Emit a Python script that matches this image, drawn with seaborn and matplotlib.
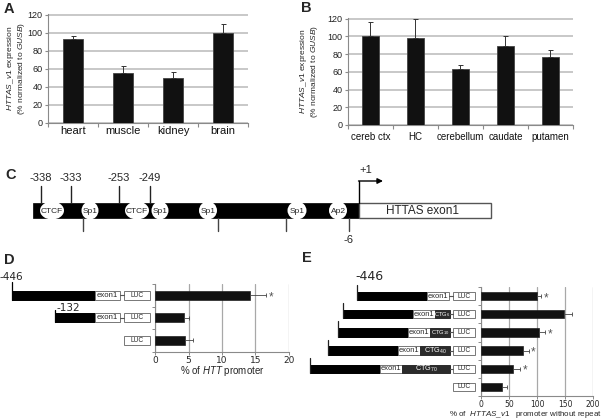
import numpy as np
import pandas as pd
import matplotlib
matplotlib.use("Agg")
import matplotlib.pyplot as plt
import matplotlib.patches as mpatches
from matplotlib.transforms import blended_transform_factory
import seaborn as sns

# panel A: tissues
tissues = ["heart", "muscle", "kidney", "brain"]
tissue_expr = [93, 55, 50, 100]
tissue_err = [3, 8, 6, 10]

# panel B: brain regions
regions = ["cereb ctx", "HC", "cerebellum", "caudate", "putamen"]
region_expr = [100, 98, 63, 89, 77]
region_err = [16, 22, 5, 11, 8]

# panel C: promoter map
c_sites_up = ["-338", "-333", "-253", "-249"]
c_motifs = ["CTCF", "Sp1", "CTCF", "Sp1", "Sp1", "Sp1", "Ap2"]

# panel D: HTTAS promoter deletions
d_constructs = ["-446", "-132", "LUC"]
d_activity = [14.2, 4.3, 4.5]
d_err = [2.4, 0.8, 1.2]
d_sig = [True, False, False]

# panel E: CTG repeat constructs
e_constructs = ["-446", "CTG6", "CTG10", "CTG40", "CTG70", "LUC"]
e_repeat = [None, "6", "10", "40", "70", None]
e_activity = [100, 149, 104, 75, 58, 37]
e_err = [8, 13, 11, 10, 12, 9]
e_sig = [True, False, True, True, True, False]

W, H = 604, 419
sns.set_theme(style="white")
plt.rcParams["font.family"] = ["Liberation Sans", "DejaVu Sans"]
plt.rcParams["mathtext.fontset"] = "custom"
plt.rcParams["mathtext.it"] = "Liberation Sans:italic"
plt.rcParams["mathtext.rm"] = "Liberation Sans"

fig = plt.figure(figsize=(W / 100, H / 100), dpi=100)


def px_rect(l, t, r, b):
    return [l / W, 1 - b / H, (r - l) / W, (b - t) / H]


GRID = "#c4c4c4"
SPINE = "#8a8a8a"


def expr_panel(ax, names, vals, errs, width, label_fs, pad):
    df = pd.DataFrame({"name": names, "val": vals})
    sns.barplot(data=df, x="name", y="val", color="#111111", saturation=1,
                width=width, edgecolor="#444444", linewidth=0.6, errorbar=None,
                ax=ax, zorder=3)
    ax.errorbar(np.arange(len(vals)), vals, yerr=[np.zeros(len(vals)), errs],
                fmt="none", ecolor="#333333", elinewidth=0.7, capsize=1.8,
                capthick=0.7, zorder=4)
    ax.set_ylim(0, 120.8)
    ax.set_xlim(-0.5, len(vals) - 0.5)
    ax.set_yticks(range(0, 121, 20))
    ax.yaxis.grid(True, color=GRID, lw=1.3)
    ax.set_axisbelow(True)
    for s in ["top", "right"]:
        ax.spines[s].set_visible(False)
    for s in ["left", "bottom"]:
        ax.spines[s].set_color(SPINE)
        ax.spines[s].set_linewidth(0.8)
    ax.set_xticks(np.arange(-0.5, len(vals)), minor=True)
    ax.tick_params(axis="x", which="major", length=0, pad=pad, labelsize=label_fs,
                   colors="#111111")
    ax.tick_params(axis="x", which="minor", length=3, color=SPINE, width=0.8,
                   direction="out", bottom=True)
    ax.tick_params(axis="y", length=2.5, color=SPINE, width=0.8, left=True,
                   labelsize=6.5, pad=1.5, labelcolor="#222222")
    ax.set_xlabel("")
    ax.set_ylabel("$HTTAS\\_v1$ expression\n(% normalized to $GUSB$)",
                  fontsize=6, linespacing=0.95)


axA = fig.add_axes(px_rect(48, 14, 248, 123))
expr_panel(axA, tissues, tissue_expr, tissue_err, 0.4, 8, 2.5)
axA.yaxis.set_label_coords(-0.105, 0.5)

axB = fig.add_axes(px_rect(348, 18, 573, 125))
expr_panel(axB, regions, region_expr, region_err, 0.38, 7, 5)
axB.yaxis.set_label_coords(-0.125, 0.5)


def luc_panel(ax, names, vals, errs, sig, xmax, step, width):
    df = pd.DataFrame({"name": names, "val": vals})
    sns.barplot(data=df, x="val", y="name", orient="h", color="#111111",
                saturation=1, width=width, edgecolor="#222222", linewidth=0.5,
                errorbar=None, ax=ax, zorder=3)
    ax.errorbar(vals, np.arange(len(vals)), xerr=[np.zeros(len(vals)), errs],
                fmt="none", ecolor="#444444", elinewidth=0.6, capsize=1.6,
                capthick=0.6, zorder=4)
    for i, (v, e, s) in enumerate(zip(vals, errs, sig)):
        if s:
            ax.annotate("*", (v + e, i), xytext=(3.5, -1.5), textcoords="offset points",
                        ha="center", va="center", fontsize=8.5, color="#555555")
    ax.set_xlim(0, xmax)
    ax.set_ylim(len(vals) - 0.5, -0.5)
    ax.set_xticks(np.arange(0, xmax + 1, step))
    ax.xaxis.grid(True, color="#a8a8a8", lw=0.9)
    ax.set_axisbelow(True)
    for s in ["top", "right"]:
        ax.spines[s].set_visible(False)
    for s in ["left", "bottom"]:
        ax.spines[s].set_color(SPINE)
        ax.spines[s].set_linewidth(0.8)
    ax.set_yticks(np.arange(-0.5, len(vals)))
    ax.set_yticklabels([])
    ax.tick_params(axis="y", length=2.5, color=SPINE, width=0.7, left=True)
    ax.tick_params(axis="x", length=2, color=SPINE, width=0.7, bottom=True, pad=1)
    ax.set_ylabel("")


axD = fig.add_axes(px_rect(155, 284, 289, 351.5))
luc_panel(axD, d_constructs, d_activity, d_err, d_sig, 20, 5, 0.42)
for t in axD.get_xticklabels():
    t.set_fontfamily("DejaVu Sans")
    t.set_fontsize(6.5)
axD.set_xlabel("% of $HTT$ promoter", fontsize=7, labelpad=-0.5)

axE = fig.add_axes(px_rect(481, 287, 593, 396))
luc_panel(axE, e_constructs, e_activity, e_err, e_sig, 200, 50, 0.45)
for t in axE.get_xticklabels():
    t.set_fontfamily("DejaVu Sans")
    t.set_fontsize(5.5)
axE.set_xlabel("% of  $HTTAS\\_v1$   promoter without repeat", fontsize=5.8)
axE.xaxis.set_label_coords(0.40, -0.115)

# overlay for schematics, in figure pixels
dax = fig.add_axes([0, 0, 1, 1], zorder=5)
dax.set_xlim(0, W)
dax.set_ylim(H, 0)
dax.axis("off")

for txt, x, y in [("A", 9, 9), ("B", 306, 8), ("C", 11, 175), ("D", 9, 260), ("E", 307, 258)]:
    dax.text(x, y, txt, fontsize=10.5, fontweight="bold", ha="center", va="center")

# panel C schematic
bar_top, bar_bot = 203, 218
dax.add_patch(mpatches.Rectangle((33, bar_top), 359 - 33, bar_bot - bar_top,
                                 facecolor="black", edgecolor="black", lw=0.5))
dax.add_patch(mpatches.Rectangle((359, bar_top), 491 - 359, bar_bot - bar_top,
                                 facecolor="white", edgecolor="#555555", lw=1))
dax.text(423, 210.5, "HTTAS exon1", fontsize=8.5, ha="center", va="center")
motif_x = [52, 90, 137, 160, 208, 297, 338]
motif_w = [24, 17, 24, 17, 18, 19, 18]
for name, x, w in zip(c_motifs, motif_x, motif_w):
    dax.add_patch(mpatches.Ellipse((x, 210.5), w, 18, facecolor="white",
                                   edgecolor="none"))
    dax.text(x, 211, name, fontsize=6, ha="center", va="center")
for name, x in zip(c_sites_up, [41, 71, 119, 150]):
    dax.plot([x, x], [186, bar_top], color="#222222", lw=1)
    dax.text(x, 178, name, fontsize=8, ha="center", va="center")
for x in [83, 218, 286, 349]:
    dax.plot([x, x], [bar_bot, 231], color="#444444", lw=1)
dax.text(349, 240, "-6", fontsize=8, ha="center", va="center")
dax.plot([359, 359], [bar_top, 181], color="black", lw=1)
dax.annotate("", xy=(383, 181), xytext=(358.5, 181),
             arrowprops=dict(arrowstyle="-|>", lw=1, color="black",
                             mutation_scale=8, shrinkA=0, shrinkB=0))
dax.text(366, 170, "+1", fontsize=8, ha="center", va="center")


def box(tr, x0, x1, row, h, face="white", edge="#777777", lw=0.7):
    dax.add_patch(mpatches.Rectangle((x0, row - h / 2), x1 - x0, h, transform=tr,
                                     facecolor=face, edgecolor=edge, lw=lw))


# panel D schematic (x in pixels, y follows bar rows)
trD = blended_transform_factory(dax.transData, axD.transData)
d_start = [12, 55, None]
d_rise = [0.36, 0.14, None]
for i, (x0, rise) in enumerate(zip(d_start, d_rise)):
    h = 0.42
    box(trD, 124, 150, i, h)
    dax.text(137, i, "LUC", fontsize=4.8, ha="center", va="center", transform=trD)
    if x0 is None:
        continue
    box(trD, x0, 95, i, h, face="black", edge="black")
    box(trD, 95, 120, i, h)
    dax.text(107.5, i, "exon1", fontsize=5.6, ha="center", va="center", transform=trD)
    dax.plot([120, 124], [i, i], color="#555555", lw=0.8, transform=trD)
    dax.plot([x0, x0], [i + h / 2, i - h / 2 - rise], color="black", lw=0.9,
             transform=trD)
dax.text(0, -0.58, d_constructs[0], fontsize=7.5, ha="left", va="bottom",
         fontfamily="DejaVu Sans", transform=trD)
dax.text(56.5, 1 - 0.42, d_constructs[1], fontsize=7.5, ha="left", va="center",
         fontfamily="DejaVu Sans", transform=trD)

# panel E schematic
trE = blended_transform_factory(dax.transData, axE.transData)
e_start = [357, 343, 338, 328, 310, None]
for i, (x0, rep) in enumerate(zip(e_start, e_repeat)):
    h = 0.45
    box(trE, 453, 475, i, h)
    dax.text(464, i, "LUC", fontsize=4.8, ha="center", va="center", transform=trE)
    if x0 is None:
        continue
    box(trE, x0, x0 + 70, i, h, face="black", edge="black")
    ex1 = x0 + 92 if rep else 449
    box(trE, x0 + 70, ex1, i, h)
    dax.text(x0 + 70 + (ex1 - x0 - 70) / 2, i, "exon1", fontsize=5.4, ha="center",
             va="center", transform=trE)
    if rep:
        box(trE, ex1, 450, i, h, face="#2b2b2b", edge="#2b2b2b")
        fs = 4.2 if (450 - ex1) < 25 else 5.2
        dax.text((ex1 + 450) / 2, i, "CTG$_{" + rep + "}$", fontsize=fs,
                 color="white", ha="center", va="center", transform=trE)
    dax.plot([449 if not rep else 450, 453], [i, i], color="#555555", lw=0.8,
             transform=trE)
    dax.plot([x0, x0], [i + h / 2, i - h / 2 - 0.38], color="#222222", lw=0.9,
             transform=trE)
dax.text(355, -0.72, e_constructs[0], fontsize=9, ha="left", va="bottom",
         fontfamily="DejaVu Sans", transform=trE)

fig.savefig("out.png", dpi=100)
